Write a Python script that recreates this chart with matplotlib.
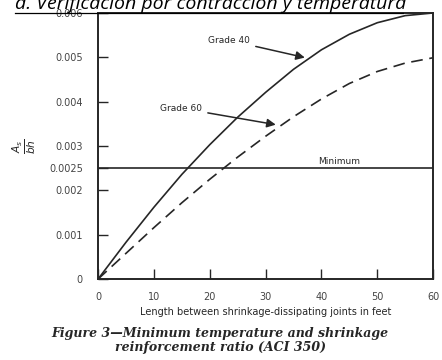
import numpy as np
import matplotlib.pyplot as plt
from matplotlib.lines import Line2D

# Data (length in ft vs As/bh)
length_ft = [0, 5, 10, 15, 20, 25, 30, 35, 40, 45, 50, 55, 60]
grade40 = [0, 0.00083, 0.00162, 0.00236, 0.00303, 0.00365, 0.00421, 0.00473, 0.00517,
           0.00552, 0.00578, 0.00594, 0.006]
grade60 = [0, 0.00058, 0.00116, 0.00172, 0.00225, 0.00275, 0.00322, 0.00366, 0.00406,
           0.00441, 0.00468, 0.00487, 0.00499]
minimum = 0.0025

x_ticks = [0, 10, 20, 30, 40, 50, 60]
y_ticks = [0, 0.001, 0.002, 0.0025, 0.003, 0.004, 0.005, 0.006]
y_labels = ['0', '0.001', '0.002', '0.0025', '0.003', '0.004', '0.005', '0.006']

ink = '#262626'

fig = plt.figure(figsize=(4.42, 3.6), dpi=100)
ax = fig.add_axes([0.222, 0.225, 0.758, 0.739])

ax.plot(length_ft, grade40, color=ink, lw=1.2)
ax.plot(length_ft, grade60, color=ink, lw=1.2, ls=(0, (7, 4)))
ax.axhline(minimum, color=ink, lw=1.2)

ax.set_xlim(0, 60)
ax.set_ylim(0, 0.006)
ax.set_xticks(x_ticks)
ax.set_yticks(y_ticks)
ax.set_yticklabels(y_labels)
ax.tick_params(direction='in', length=7, width=1, colors=ink, labelsize=7)
ax.tick_params(axis='y', pad=11, labelcolor='#444444')
ax.tick_params(axis='x', pad=9, labelcolor='#444444')
for s in ax.spines.values():
    s.set_linewidth(1.4)
    s.set_color(ink)

ax.set_xlabel('Length between shrinkage-dissipating joints in feet', fontsize=7, color=ink, labelpad=4)
ax.set_ylabel(r'$\frac{A_s}{bh}$', fontsize=11, color=ink, rotation=90)
ax.yaxis.set_label_coords(-0.18, 0.5)

arrow = dict(arrowstyle='-|>', color=ink, lw=1.1, mutation_scale=13)
ax.annotate('Grade 40', xy=(37.5, 0.00498), xytext=(23.5, 0.00538),
            fontsize=6.5, color=ink, ha='center', va='center', arrowprops=arrow)
ax.annotate('Grade 60', xy=(32.3, 0.00347), xytext=(14.9, 0.00385),
            fontsize=6.5, color=ink, ha='center', va='center', arrowprops=arrow)
ax.text(43.2, minimum + 0.00005, 'Minimum', fontsize=6.5, color=ink, ha='center', va='bottom')

# title cut off at the top, italic and underlined
fig.text(0.034, 0.975, 'd. Verificación por contracción y temperatura', fontsize=14,
         style='italic', family='Open Sans', color='black', ha='left', va='baseline')
fig.add_artist(Line2D([0.034, 0.912], [0.965, 0.965], color='black', lw=0.9))

# caption
cap = dict(fontsize=9, family='DejaVu Serif', style='italic', weight='bold', color=ink, ha='center')
fig.text(0.498, 0.063, 'Figure 3\u2014Minimum temperature and shrinkage', **cap)
fig.text(0.498, 0.025, 'reinforcement ratio (ACI 350)', **cap)

fig.savefig('out.png', dpi=100)
